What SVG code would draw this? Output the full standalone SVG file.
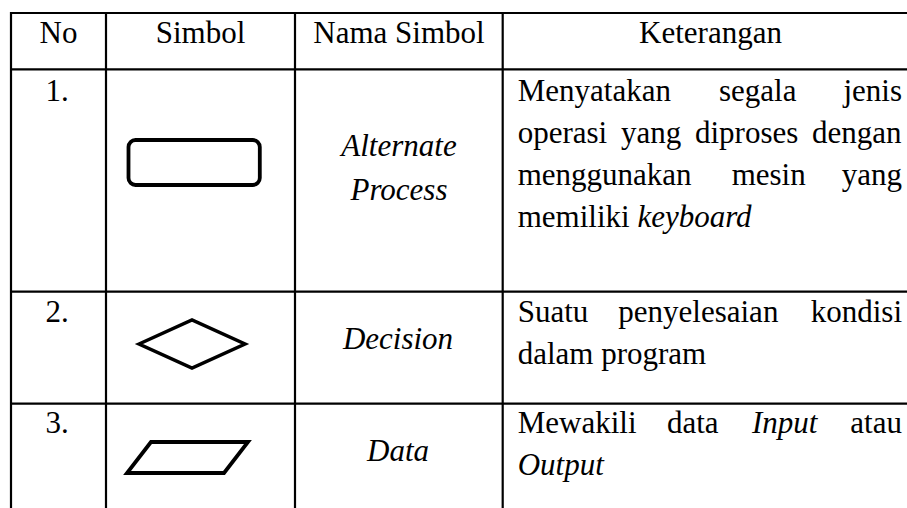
<svg xmlns="http://www.w3.org/2000/svg" width="907" height="508" viewBox="0 0 907 508">
<style>
.grid{stroke:#000;stroke-width:2.2;fill:none}
.sym{stroke:#000;fill:#fff;stroke-linejoin:miter}
text{font-family:"Liberation Serif","Times New Roman",serif;font-size:31px;fill:#000}
.c{text-anchor:middle}
.e{text-anchor:end}
.i{font-style:italic}
</style>
<rect width="907" height="508" fill="#fff"/>
<g id="table-grid">
<line class="grid" x1="10" y1="13" x2="907" y2="13"/>
<line class="grid" x1="10" y1="69.3" x2="907" y2="69.3"/>
<line class="grid" x1="10" y1="291.7" x2="907" y2="291.7"/>
<line class="grid" x1="10" y1="403.7" x2="907" y2="403.7"/>
<line class="grid" x1="11" y1="12" x2="11" y2="508"/>
<line class="grid" x1="106" y1="12" x2="106" y2="508"/>
<line class="grid" x1="295" y1="12" x2="295" y2="508"/>
<line class="grid" x1="502.7" y1="12" x2="502.7" y2="508"/>
</g>
<g id="header">
<text class="c" x="58.5" y="42.7">No</text>
<text class="c" x="200.5" y="42.7">Simbol</text>
<text class="c" x="399" y="42.7">Nama Simbol</text>
<text class="c" x="710.5" y="42.7">Keterangan</text>
</g>
<g id="row1">
<text class="c" x="57" y="101">1.</text>
<rect class="sym" x="128.5" y="140" width="131.3" height="45" rx="7" stroke-width="3.8"/>
<text class="c i" x="399" y="156">Alternate</text>
<text class="c i" x="399" y="199.5">Process</text>
<text x="517.7" y="100.7">Menyatakan</text>
<text x="719" y="100.7">segala</text>
<text class="e" x="902" y="100.7">jenis</text>
<text x="517.7" y="143" word-spacing="6">operasi yang diproses dengan</text>
<text x="517.7" y="185">menggunakan</text>
<text x="731.7" y="185">mesin</text>
<text class="e" x="902" y="185">yang</text>
<text x="517.7" y="226.7">memiliki <tspan class="i">keyboard</tspan></text>
</g>
<g id="row2">
<text class="c" x="57" y="322.3">2.</text>
<polygon class="sym" points="139,344 192,319.8 245,344 192,368" stroke-width="3.5"/>
<text class="c i" x="398" y="349.3">Decision</text>
<text x="517.7" y="322.3">Suatu</text>
<text x="618.3" y="322.3">penyelesaian</text>
<text class="e" x="902" y="322.3">kondisi</text>
<text x="517.7" y="364">dalam program</text>
</g>
<g id="row3">
<text class="c" x="57" y="433.3">3.</text>
<polygon class="sym" points="151,442 248,442 224,473 127,473" stroke-width="3.8"/>
<text class="c i" x="398" y="460.7">Data</text>
<text x="517.7" y="433.3">Mewakili</text>
<text x="667" y="433.3">data</text>
<text class="i" x="752" y="433.3">Input</text>
<text class="e" x="902" y="433.3">atau</text>
<text class="i" x="517.7" y="475">Output</text>
</g>
<g id="connectors"/>
</svg>
